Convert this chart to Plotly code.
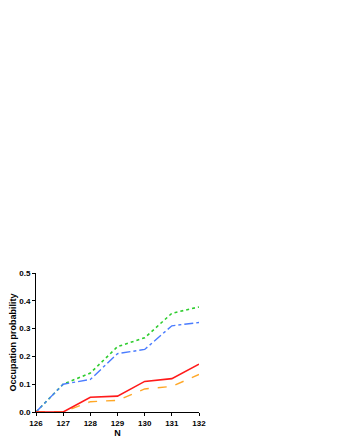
import plotly.graph_objects as go

N = [126, 127, 128, 129, 130, 131, 132]
red_solid = [0.0, 0.0, 0.053, 0.057, 0.110, 0.120, 0.172]
orange_dash = [0.0, 0.0, 0.037, 0.042, 0.083, 0.092, 0.135]
green_dot = [0.0, 0.100, 0.140, 0.235, 0.267, 0.355, 0.378]
blue_dashdot = [0.0, 0.100, 0.117, 0.210, 0.225, 0.310, 0.322]

fig = go.Figure()
fig.add_trace(go.Scatter(x=N, y=green_dot, mode="lines",
                         line=dict(color="#2ecc2e", width=1.6, dash="dot")))
fig.add_trace(go.Scatter(x=N, y=blue_dashdot, mode="lines",
                         line=dict(color="#4a7cff", width=1.4, dash="dashdot")))
fig.add_trace(go.Scatter(x=N, y=orange_dash, mode="lines",
                         line=dict(color="#ffa726", width=1.4, dash="dash")))
fig.add_trace(go.Scatter(x=N, y=red_solid, mode="lines",
                         line=dict(color="#ff1a1a", width=1.6)))

font = dict(family="Liberation Sans, Arial, sans-serif", size=8, color="black", weight="bold")

# page adds an 8px body margin, so the figure is a bit smaller than the window
fig.update_layout(
    width=332, height=432,
    margin=dict(l=28, r=141, t=265, b=28),
    paper_bgcolor="white", plot_bgcolor="white",
    showlegend=False,
    font=font,
)
fig.update_xaxes(range=[126, 132], tickvals=N, showline=True, linecolor="black", linewidth=1,
                 ticks="outside", ticklen=3, tickcolor="black", showgrid=False, zeroline=False,
                 automargin=False,
                 title=dict(text="N", font=dict(size=9, weight="bold"), standoff=2))
fig.update_yaxes(range=[0, 0.5], dtick=0.1, tickformat=".1f", showline=True, linecolor="black",
                 linewidth=1, ticks="outside", ticklen=3, tickcolor="black", showgrid=False,
                 zeroline=False, automargin=False,
                 title=dict(text="Occupation probability", font=dict(size=9, weight="bold"), standoff=8))

fig.write_html("out.html")
